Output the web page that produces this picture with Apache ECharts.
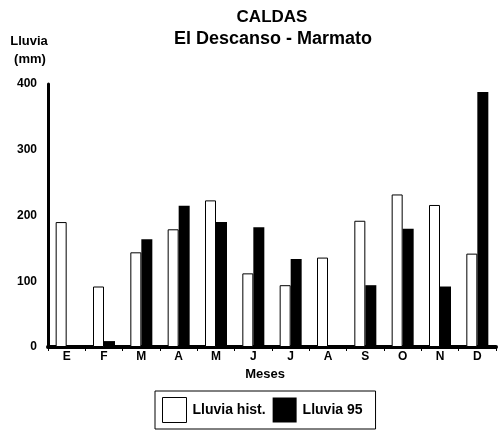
<!DOCTYPE html>
<html><head><meta charset="utf-8">
<script src="https://cdn.jsdelivr.net/npm/echarts@6/dist/echarts.min.js"></script>
<style>html,body{margin:0;padding:0;background:#fff}#c{width:499px;height:430px}</style>
</head><body><div id="c"></div>
<script>
var categories = ['E','F','M','A','M','J','J','A','S','O','N','D'];
var lluviaHist = [190, 92, 144, 179, 223, 112, 94, 136, 192, 232, 216, 142];
var lluvia95 = [2, 9, 164, 215, 190, 182, 134, 2, 94, 180, 92, 388];
var yTicks = [0, 100, 200, 300, 400];

var chart = echarts.init(document.getElementById('c'));
var font = 'Liberation Sans, Arial, sans-serif';
chart.setOption({
  animation: false,
  backgroundColor: '#fff',
  title: [
    {text: 'CALDAS', left: 267, top: 4, textAlign: 'center',
     textStyle: {fontFamily: font, fontWeight: 'bold', fontSize: 17, color: '#000'}},
    {text: 'El Descanso - Marmato', left: 268, top: 25, textAlign: 'center',
     textStyle: {fontFamily: font, fontWeight: 'bold', fontSize: 18, color: '#000'}},
    {text: 'Lluvia', left: 24, top: 30, textAlign: 'center',
     textStyle: {fontFamily: font, fontWeight: 'bold', fontSize: 13, color: '#000'}},
    {text: '(mm)', left: 25, top: 48, textAlign: 'center',
     textStyle: {fontFamily: font, fontWeight: 'bold', fontSize: 13, color: '#000'}},
    {text: 'Meses', left: 260, top: 363, textAlign: 'center',
     textStyle: {fontFamily: font, fontWeight: 'bold', fontSize: 13, color: '#000'}}
  ],
  legend: {
    left: 155, top: 391, itemWidth: 24, itemHeight: 25, itemGap: 7,
    icon: 'rect',
    padding: [6, 13, 6, 7],
    borderColor: '#000', borderWidth: 1,
    textStyle: {fontFamily: font, fontWeight: 'bold', fontSize: 14, color: '#000', padding: [0, 0, 0, 1]},
    data: [
      {name: 'Lluvia hist.', itemStyle: {color: '#fff', borderColor: '#000', borderWidth: 1}},
      {name: 'Lluvia 95', itemStyle: {color: '#000'}}
    ]
  },
  grid: {left: 48, right: 3, top: 84, bottom: 83, containLabel: false},
  xAxis: {
    type: 'category', data: categories,
    axisLine: {lineStyle: {color: '#000', width: 4}},
    axisTick: {show: true, length: 4, lineStyle: {color: '#000', width: 1}},
    axisLabel: {fontFamily: font, fontWeight: 'bold', fontSize: 12, color: '#000', margin: 4}
  },
  yAxis: {
    type: 'value', min: 0, max: 400, interval: 100,
    axisLine: {show: true, lineStyle: {color: '#000', width: 3}},
    axisTick: {show: false},
    splitLine: {show: false},
    axisLabel: {fontFamily: font, fontWeight: 'bold', fontSize: 12, color: '#000', margin: 11,
      formatter: function (v) { return yTicks.indexOf(v) >= 0 ? String(v) : ''; }}
  },
  series: [
    {name: 'Lluvia hist.', type: 'bar', data: lluviaHist, barWidth: 11, barGap: '0%',
     itemStyle: {color: '#fff', borderColor: '#000', borderWidth: 1}},
    {name: 'Lluvia 95', type: 'bar', data: lluvia95, barWidth: 11,
     itemStyle: {color: '#000'}}
  ]
});
</script></body></html>
